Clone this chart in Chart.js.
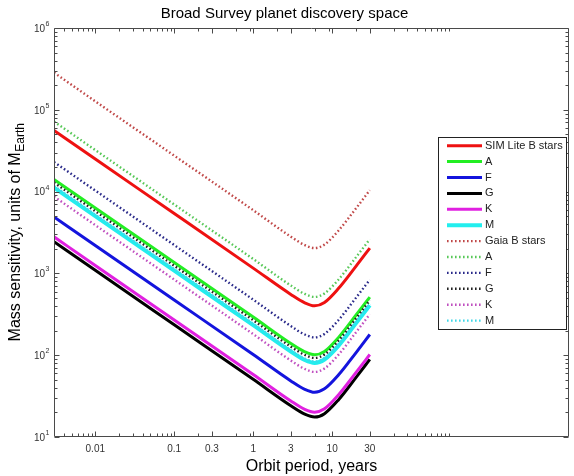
<!DOCTYPE html>
<html><head><meta charset="utf-8">
<script src="https://cdn.jsdelivr.net/npm/chart.js@4.4.0/dist/chart.umd.min.js"></script>
<style>html,body{margin:0;padding:0;background:#fff}canvas{display:block}</style>
</head><body>
<canvas id="c" width="574" height="476" style="width:574px;height:476px"></canvas>
<script>
// Orbit period (years) at which values were read
const periods = [0.003, 0.01, 0.1, 1, 3, 4.5, 6, 8, 12, 20, 30];

// SIM Lite mass sensitivity (Earth masses)
const simB = [56000, 25000, 5400, 1160, 553, 437, 402, 442, 652, 1220, 2040];
const simA = [14100, 6300, 1360, 293, 139, 110, 101, 111, 164, 308, 513];
const simF = [4900, 2190, 473, 102, 48.5, 38.3, 35.2, 38.8, 57.1, 107, 179];
const simG = [2440, 1090, 235, 50.7, 24.1, 19.0, 17.5, 19.3, 28.4, 53.2, 88.7];
const simK = [2800, 1250, 270, 58.2, 27.6, 21.8, 20.1, 22.1, 32.6, 61.1, 102];
const simM = [11200, 5010, 1080, 233, 111, 87.4, 80.4, 88.5, 130, 245, 408];

// Gaia mass sensitivity (Earth masses)
const gaiaB = [285000, 127000, 27500, 5930, 2810, 2220, 2040, 2250, 3320, 6220, 10400];
const gaiaA = [72000, 32200, 6950, 1500, 711, 561, 516, 569, 838, 1570, 2620];
const gaiaF = [23000, 10300, 2220, 478, 227, 179, 165, 182, 268, 502, 837];
const gaiaG = [12900, 5760, 1240, 268, 127, 101, 92.5, 102, 150, 281, 469];
const gaiaK = [8700, 3890, 840, 181, 86, 67.9, 62.4, 68.8, 101, 190, 317];
const gaiaM = [11700, 5220, 1130, 243, 115, 91.1, 83.8, 92.3, 136, 255, 425];

const seriesLabels = ['SIM Lite B stars', 'A', 'F', 'G', 'K', 'M', 'Gaia B stars', 'A', 'F', 'G', 'K', 'M'];

const xTickValues = [0.01, 0.1, 0.3, 1, 3, 10, 30];
const xTickLabels = ['0.01', '0.1', '0.3', '1', '3', '10', '30'];
const xMinorTicks = [0.004, 0.005, 0.006, 0.007, 0.008, 0.009, 0.02, 0.03, 0.04, 0.05, 0.06, 0.07, 0.08, 0.09,
  0.2, 0.6, 0.9, 2, 6, 9, 20, 60, 90, 120, 150, 180, 210, 240, 270, 300];
const yTickValues = [10, 100, 1000, 10000, 100000, 1000000];
const yTickExponents = ['1', '2', '3', '4', '5', '6'];
const yMinorTicks = [];
for (let d = 10; d < 1000000; d *= 10) for (let k = 2; k <= 9; k++) yMinorTicks.push(k * d);

const simColors = ['#ee1111', '#22ee22', '#1414dd', '#000000', '#e020e0', '#22eeee'];
const gaiaColors = ['#c04848', '#58c858', '#2a2a8a', '#222222', '#c050c0', '#40d8e8'];

const FONT = 'Liberation Sans, Arial, Helvetica, sans-serif';

function mk(label, vals, color, dotted, idx) {
  return {
    label: label,
    data: periods.map((p, i) => ({x: p, y: vals[i]})),
    borderColor: color,
    backgroundColor: color,
    borderWidth: dotted ? 2.4 : (color === '#22eeee' ? 4 : 3),
    borderDash: dotted ? [1.6, 2.4] : [],
    borderCapStyle: 'butt',
    pointRadius: 0,
    fill: false,
    cubicInterpolationMode: 'monotone',
    order: 20 - idx
  };
}
const simData = [simB, simA, simF, simG, simK, simM];
const gaiaData = [gaiaB, gaiaA, gaiaF, gaiaG, gaiaK, gaiaM];
const datasets = [];
simData.forEach((v, i) => datasets.push(mk(seriesLabels[i], v, simColors[i], false, i)));
gaiaData.forEach((v, i) => datasets.push(mk(seriesLabels[6 + i], v, gaiaColors[i], true, 6 + i)));

const framePlugin = {
  id: 'frame',
  afterDatasetsDraw(chart) {
    const {ctx, chartArea: a, scales: {x, y}} = chart;
    ctx.save();
    const L = Math.round(a.left) + 0.5, R = Math.round(a.right) - 0.5;
    const T = Math.round(a.top) + 0.5, B = Math.round(a.bottom) - 0.5;
    ctx.strokeStyle = '#4a4a4a';
    ctx.lineWidth = 1;
    ctx.setLineDash([]);
    ctx.beginPath();
    ctx.rect(L, T, R - L, B - T);
    const xt = (v, len) => {
      const px = Math.round(x.getPixelForValue(v)) + 0.5;
      ctx.moveTo(px, B); ctx.lineTo(px, B - len);
      ctx.moveTo(px, T); ctx.lineTo(px, T + len);
    };
    const yt = (v, len) => {
      const py = Math.round(y.getPixelForValue(v)) + 0.5;
      ctx.moveTo(L, py); ctx.lineTo(L + len, py);
      ctx.moveTo(R, py); ctx.lineTo(R - len, py);
    };
    xTickValues.forEach(v => xt(v, 5));
    xMinorTicks.forEach(v => xt(v, 3));
    yTickValues.forEach(v => yt(v, 5));
    yMinorTicks.forEach(v => yt(v, 3));
    ctx.stroke();

    // y tick labels with superscript exponents
    ctx.fillStyle = '#333';
    yTickValues.forEach((v, i) => {
      const py = y.getPixelForValue(v);
      ctx.font = '10px ' + FONT;
      ctx.textAlign = 'right';
      ctx.textBaseline = 'middle';
      ctx.fillText('10', 45, py + 1);
      ctx.font = '7px ' + FONT;
      ctx.textAlign = 'left';
      ctx.fillText(yTickExponents[i], 45.5, py - 4);
    });

    // y axis title with subscript
    const main = 'Mass sensitivity, units of M';
    const sub = 'Earth';
    ctx.fillStyle = '#000';
    ctx.font = '16px ' + FONT;
    const wm = ctx.measureText(main).width;
    ctx.font = '12px ' + FONT;
    const ws = ctx.measureText(sub).width;
    const cy = (a.top + a.bottom) / 2;
    ctx.translate(16, cy + (wm + ws) / 2);
    ctx.rotate(-Math.PI / 2);
    ctx.textAlign = 'left';
    ctx.textBaseline = 'middle';
    ctx.font = '16px ' + FONT;
    ctx.fillText(main, 0, 0);
    ctx.font = '12px ' + FONT;
    ctx.fillText(sub, wm + 0.5, 5);
    ctx.restore();

    // legend box
    ctx.save();
    const lx = 438.5, ly = 137.5, lw = 128, lh = 192;
    ctx.fillStyle = '#fff';
    ctx.fillRect(lx, ly, lw, lh);
    ctx.strokeStyle = '#222';
    ctx.lineWidth = 1;
    ctx.strokeRect(lx, ly, lw, lh);
    chart.data.datasets.forEach((ds, i) => {
      const cyi = 145.7 + 15.9 * i;
      ctx.beginPath();
      ctx.strokeStyle = ds.borderColor;
      ctx.lineWidth = ds.borderWidth;
      ctx.setLineDash(ds.borderDash);
      ctx.lineCap = 'butt';
      ctx.moveTo(447, cyi);
      ctx.lineTo(482, cyi);
      ctx.stroke();
      ctx.setLineDash([]);
      ctx.fillStyle = '#222';
      ctx.font = '11px ' + FONT;
      ctx.textAlign = 'left';
      ctx.textBaseline = 'middle';
      ctx.fillText(ds.label, 485, cyi);
    });
    ctx.restore();
  }
};

new Chart(document.getElementById('c'), {
  type: 'line',
  data: {datasets: datasets},
  options: {
    responsive: false,
    animation: false,
    events: [],
    layout: {padding: {left: 0, right: 5, top: 0, bottom: 0}},
    plugins: {
      legend: {display: false},
      tooltip: {enabled: false},
      title: {
        display: true,
        text: 'Broad Survey planet discovery space',
        color: '#000',
        font: {family: FONT, size: 15, weight: 'normal'},
        padding: {top: 5, bottom: 5}
      }
    },
    scales: {
      x: {
        type: 'logarithmic',
        min: 0.003,
        max: 10000,
        grid: {display: false, drawTicks: false},
        border: {display: false},
        afterBuildTicks: s => { s.ticks = xTickValues.map(v => ({value: v})); },
        afterFit: s => { s.height = 39; },
        ticks: {
          autoSkip: false,
          maxRotation: 0,
          padding: 6,
          color: '#333',
          font: {family: FONT, size: 10},
          callback: (v, i) => xTickLabels[i]
        },
        title: {
          display: true,
          text: 'Orbit period, years',
          color: '#000',
          font: {family: FONT, size: 16},
          padding: {top: 0, bottom: 0}
        }
      },
      y: {
        type: 'logarithmic',
        min: 10,
        max: 1000000,
        grid: {display: false, drawTicks: false},
        border: {display: false},
        ticks: {display: false},
        afterFit: s => { s.width = 54; }
      }
    }
  },
  plugins: [framePlugin]
});
</script>
</body></html>
